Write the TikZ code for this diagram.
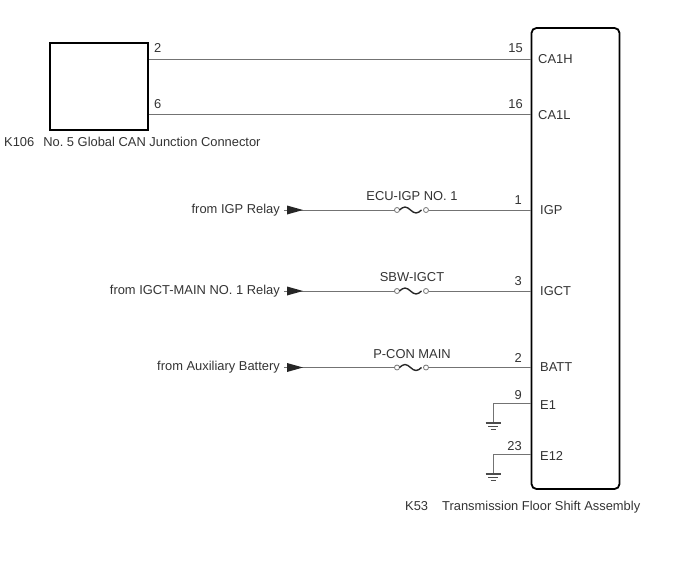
\documentclass[tikz,border=0pt]{standalone}
\usepackage{fontspec}
\setmainfont{Liberation Sans}
\frenchspacing
\begin{document}
\begin{tikzpicture}[x=1pt,y=-1pt,
  wire/.style={draw=black!55,line width=0.9pt},
  box/.style={draw=black,line width=1.8pt,fill=white,inner sep=0pt},
  lbl/.style={inner sep=0pt,text=black!80,font=\fontsize{12.9}{14}\selectfont},
  tip/.style={fill=black!85},
  gnd/.style={draw=black!70,line width=1pt}]
\useasboundingbox (0,0) rectangle (688,560);
% boxes
\node[box,minimum width=98pt,minimum height=87pt] (k106) at (99,86.5) {};
\node[box,rounded corners=5pt,minimum width=88pt,minimum height=461pt] (k53) at (575.5,258.5) {};
% connector captions
\node[lbl,anchor=west] (k106lbl) at (4,141.5) {K106\hspace{9pt}No. 5 Global CAN Junction Connector};
\node[lbl,anchor=west] (k53lbl) at (405,507.5) {K53\hspace{14pt}Transmission Floor Shift Assembly};
% CAN wires
\coordinate (a2) at (k106.east |- 0,59);
\coordinate (a6) at (k106.east |- 0,114.5);
\coordinate (b15) at (k53.west |- 0,59);
\coordinate (b16) at (k53.west |- 0,114.5);
\draw[wire] (a2) -- (b15);
\draw[wire] (a6) -- (b16);
\node[lbl,anchor=south west] (n2) at (154,53) {2};
\node[lbl,anchor=south west] (n6) at (154,108.5) {6};
\node[lbl,anchor=south east] (n15) at (523,53) {15};
\node[lbl,anchor=south east] (n16) at (523,108.5) {16};
\node[lbl,anchor=west] (tCA1H) at (538,59) {CA1H};
\node[lbl,anchor=west] (tCA1L) at (538,115) {CA1L};
% power rows
\foreach \y/\src/\fuse/\pin/\term/\nm in {
  210/from IGP Relay/ECU-IGP NO. 1/1/IGP/igp,
  291/from IGCT-MAIN NO. 1 Relay/SBW-IGCT/3/IGCT/igct,
  367.5/from Auxiliary Battery/P-CON MAIN/2/BATT/batt}{
  \coordinate (s\nm) at (284,\y);
  \coordinate (fl\nm) at (397,\y);
  \coordinate (fr\nm) at (426,\y);
  \coordinate (e\nm) at (k53.west |- 0,\y);
  \node[lbl,anchor=east] (src\nm) at (280,\y) {\src};
  \draw[wire] (s\nm) -- ([xshift=-2.5pt]fl\nm);
  \draw[wire] ([xshift=2.5pt]fr\nm) -- (e\nm);
  \fill[tip] (287,\y-4.5) -- (303,\y) -- (287,\y+4.5) -- cycle;
  \draw[wire,line width=0.8pt] (fl\nm) circle (2.5pt);
  \draw[wire,line width=0.8pt] (fr\nm) circle (2.5pt);
  \draw[draw=black!85,line width=1.4pt] ([xshift=2.5pt]fl\nm) sin +(5.5,-3) cos +(5.5,3) sin +(5.5,3) cos +(5.5,-3);
  \node[lbl,anchor=south] (fuse\nm) at (412,\y-9) {\fuse};
  \node[lbl,anchor=south east] (pin\nm) at (522,\y-5) {\pin};
  \node[lbl,anchor=west] (term\nm) at (540,\y) {\term};
}
% grounds
\foreach \y/\g/\pin/\term/\nm in {403/423/9/E1/ea, 454/474/23/E12/eb}{
  \coordinate (w\nm) at (k53.west |- 0,\y);
  \coordinate (g\nm) at (493,\g);
  \draw[wire] (w\nm) -- (493,\y) -- (g\nm);
  \draw[gnd,line width=1.4pt] ([xshift=-7.5pt]g\nm) -- ([xshift=7.5pt]g\nm);
  \draw[gnd] ([xshift=-5pt,yshift=-3.5pt]g\nm) -- ([xshift=5pt,yshift=-3.5pt]g\nm);
  \draw[gnd] ([xshift=-2.5pt,yshift=-6.5pt]g\nm) -- ([xshift=2.5pt,yshift=-6.5pt]g\nm);
  \node[lbl,anchor=south east] (pin\nm) at (522,\y-3) {\pin};
  \node[lbl,anchor=west] (term\nm) at (540,\y+2) {\term};
}
\end{tikzpicture}
\end{document}
